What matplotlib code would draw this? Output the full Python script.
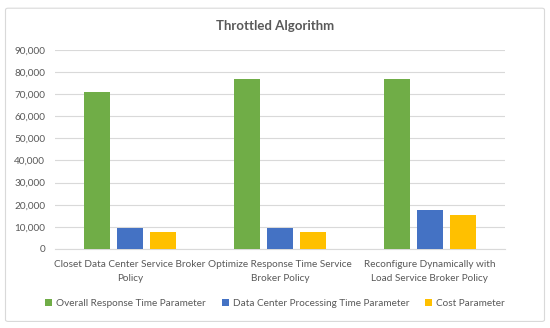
import numpy as np
import matplotlib.pyplot as plt
from matplotlib.patches import FancyBboxPatch
from matplotlib.ticker import FuncFormatter

categories = ["Closet Data Center Service Broker\nPolicy",
              "Optimize Response Time Service\nBroker Policy",
              "Reconfigure Dynamically with\nLoad Service Broker Policy"]
series_names = ["Overall Response Time Parameter",
                "Data Center Processing Time Parameter",
                "Cost Parameter"]
overall_response = [71000, 77000, 77000]
dc_processing = [9500, 9500, 17800]
cost = [7600, 7600, 15300]
colors = ["#70AD47", "#4472C4", "#FFC000"]

plt.rcParams["font.family"] = ["Lato", "DejaVu Sans"]
txt = "#595959"

fig = plt.figure(figsize=(5.5, 3.28), dpi=100)
frame = FancyBboxPatch((0.01, 0.02), 0.98, 0.955, boxstyle="round,pad=0,rounding_size=0.005",
                       transform=fig.transFigure, fc="white", ec="#D9D9D9", lw=0.8, zorder=-1)
fig.patches.append(frame)
ax = fig.add_axes([0.1, 0.241, 0.818, 0.607])
ax.patch.set_alpha(0)

x = np.arange(len(categories))
w = 0.173
step = 0.22
for i, (vals, name) in enumerate(zip([overall_response, dc_processing, cost], series_names)):
    ax.bar(x + (i - 1) * step, vals, w, color=colors[i], label=name, zorder=3)

ax.set_xlim(-0.5, 2.5)
ax.set_ylim(0, 90000)
ax.set_yticks(np.arange(0, 90001, 10000))
ax.yaxis.set_major_formatter(FuncFormatter(lambda v, p: f"{int(v):,}"))
ax.grid(axis="y", color="#D9D9D9", lw=0.8, zorder=0)
for s in ["top", "right", "left"]:
    ax.spines[s].set_visible(False)
ax.spines["bottom"].set_color("#D9D9D9")
ax.tick_params(axis="both", length=0, colors=txt, labelsize=7.2)
ax.tick_params(axis="y", pad=7)
ax.tick_params(axis="x", pad=8)
ax.set_xticks(x)
ax.set_xticklabels(categories, linespacing=1.65)

fig.text(0.5, 0.92, "Throttled Algorithm", ha="center", va="center",
         fontsize=9.5, fontweight="bold", color=txt)
fig.legend(loc="center", bbox_to_anchor=(0.5, 0.075), ncol=3, frameon=False,
           fontsize=7.2, labelcolor=txt, handlelength=0.7, handleheight=0.7,
           handletextpad=0.4, columnspacing=1.6)

fig.savefig("out.png", dpi=100)
